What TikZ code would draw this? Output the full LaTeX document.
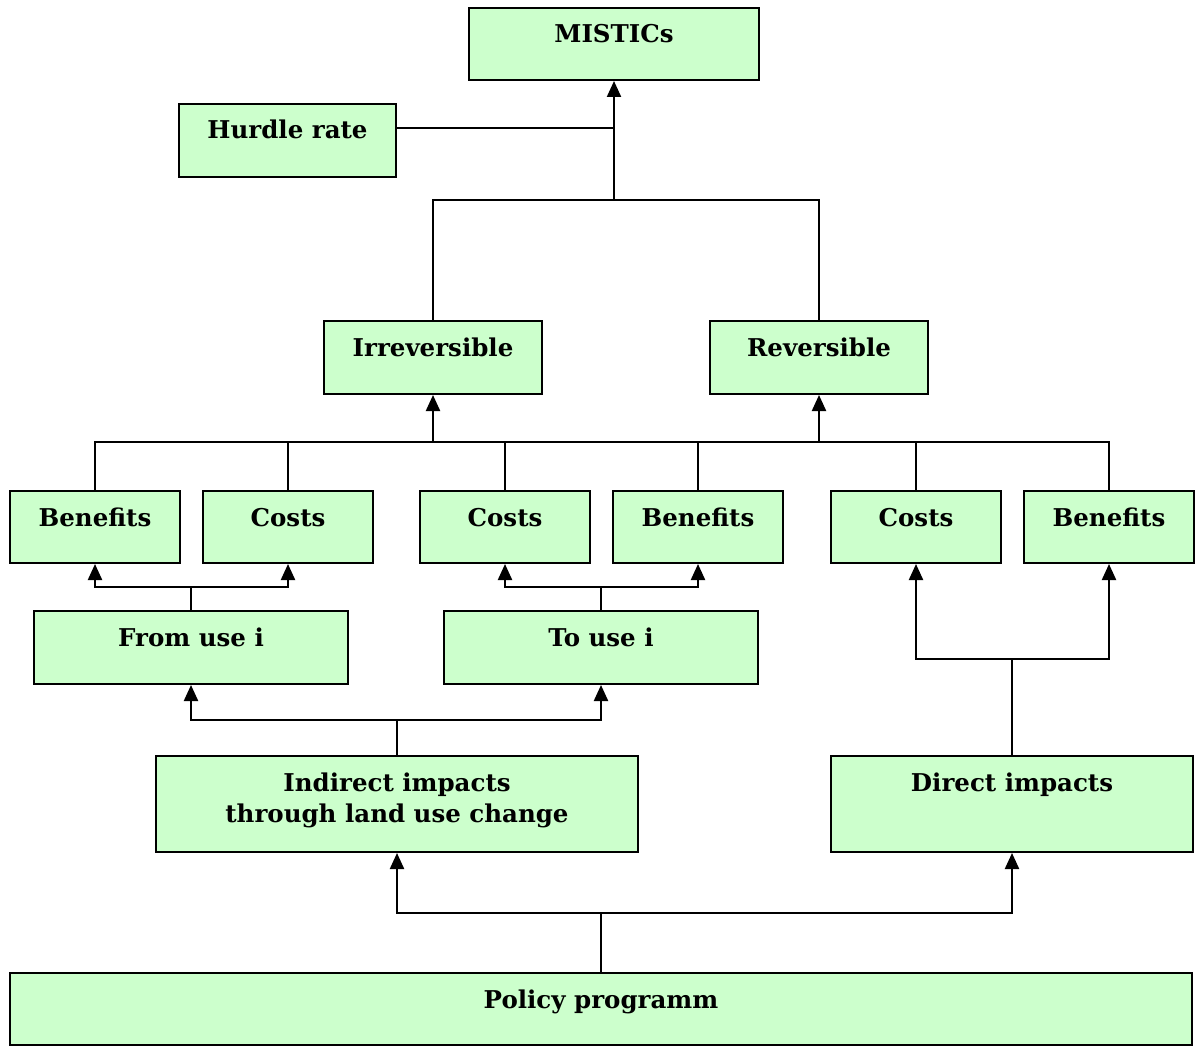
\documentclass[tikz,border=0pt]{standalone}
\usepackage{fontspec}
\setmainfont{DejaVu Serif}
\usetikzlibrary{arrows.meta,fit}
\definecolor{boxgreen}{HTML}{CCFFCC}
\tikzset{
  box/.style={draw=black, line width=2pt, fill=boxgreen, inner sep=0pt, rectangle},
  txt/.style={inner sep=0pt, font=\bfseries\fontsize{24.5}{31}\selectfont, align=center, anchor=base},
  conn/.style={draw=black, line width=2.2pt},
  arr/.style={conn, -{Triangle[width=14pt,length=16pt]}},
}
\newcommand{\mybox}[7][36]{%
  \node[box, fit={(#3,#4) (#5,#6)}] (#2) {};
  \node[txt] (#2-t) at ([yshift=-#1pt]#2.north) {#7};
}
\begin{document}
\begin{tikzpicture}[x=1pt,y=-1pt]
\useasboundingbox (0,0) rectangle (1196,1046);
\mybox{mistics}{469}{8}{759}{80}{MISTICs}
\mybox{hurdle}{179}{104}{396}{177}{Hurdle rate}
\mybox{irr}{324}{321}{542}{394}{Irreversible}
\mybox{rev}{710}{321}{928}{394}{Reversible}
\mybox{b1}{10}{491}{180}{563}{Benefits}
\mybox{c1}{203}{491}{373}{563}{Costs}
\mybox{c2}{420}{491}{590}{563}{Costs}
\mybox{b2}{613}{491}{783}{563}{Benefits}
\mybox{c3}{831}{491}{1001}{563}{Costs}
\mybox{b3}{1024}{491}{1194}{563}{Benefits}
\mybox{from}{34}{611}{348}{684}{From use i}
\mybox{to}{444}{611}{758}{684}{To use i}
\mybox[67]{ind}{156}{756}{638}{852}{Indirect impacts\\through land use change}
\mybox{dir}{831}{756}{1193}{852}{Direct impacts}
\mybox{pol}{10}{973}{1192}{1045}{Policy programm}
% coordinates
\coordinate (j1) at (614,200);
\coordinate (j2) at (614,128);
\coordinate (bar) at (433,442);
\coordinate (barR) at (819,442);
% top
\draw[arr] (j1) -- (mistics.south);
\draw[conn] (hurdle.east |- j2) -- (j2);
\draw[conn] (irr.north) |- (j1) -| (rev.north);
% level 2 bar
\draw[conn] (b1.north) |- (b3.north |- bar) -- (b3.north);
\draw[conn] (c1.north) -- (c1.north |- bar);
\draw[conn] (c2.north) -- (c2.north |- bar);
\draw[conn] (b2.north) -- (b2.north |- bar);
\draw[conn] (c3.north) -- (c3.north |- bar);
\draw[arr] (bar) -- (irr.south);
\draw[arr] (barR) -- (rev.south);
% from / to
\coordinate (jf) at (191,587);
\coordinate (jt) at (601,587);
\draw[conn] (from.north) -- (jf);
\draw[arr] (jf) -| (b1.south);
\draw[arr] (jf) -| (c1.south);
\draw[conn] (to.north) -- (jt);
\draw[arr] (jt) -| (c2.south);
\draw[arr] (jt) -| (b2.south);
% indirect
\coordinate (ji) at (397,720);
\draw[conn] (ind.north) -- (ji);
\draw[arr] (ji) -| (from.south);
\draw[arr] (ji) -| (to.south);
% direct
\coordinate (jd) at (1012,659);
\draw[conn] (dir.north) -- (jd);
\draw[arr] (jd) -| (c3.south);
\draw[arr] (jd) -| (b3.south);
% policy
\coordinate (jp) at (601,913);
\draw[conn] (pol.north) -- (jp);
\draw[arr] (jp) -| (ind.south);
\draw[arr] (jp) -| (dir.south);
\end{tikzpicture}
\end{document}
